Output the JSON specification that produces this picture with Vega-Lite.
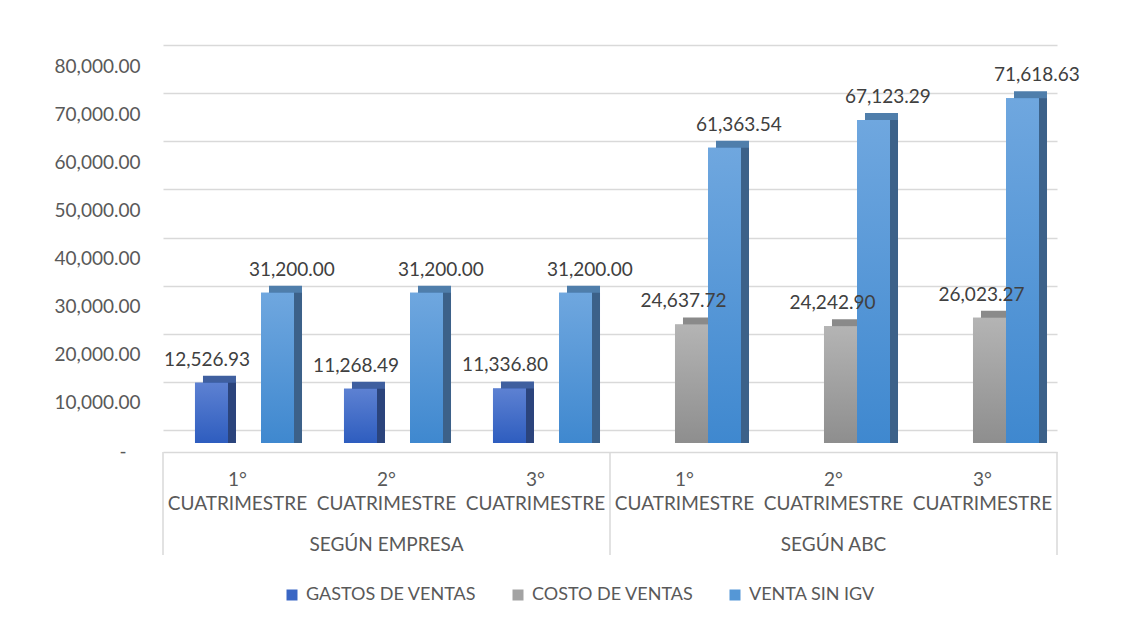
{
  "$schema": "https://vega.github.io/schema/vega-lite/v6.json",
  "width": 894,
  "height": 385,
  "autosize": {"type": "none"},
  "padding": {"left": 163, "top": 58, "right": 67, "bottom": 178},
  "background": "white",
  "config": {
    "font": "Lato",
    "view": {"stroke": null}
  },
  "datasets": {
    "ventas": [
      {"cat": "SEGÚN EMPRESA - 1° CUATRIMESTRE", "serie": "GASTOS DE VENTAS", "valor": 12526.93},
      {"cat": "SEGÚN EMPRESA - 1° CUATRIMESTRE", "serie": "VENTA SIN IGV", "valor": 31200.00},
      {"cat": "SEGÚN EMPRESA - 2° CUATRIMESTRE", "serie": "GASTOS DE VENTAS", "valor": 11268.49},
      {"cat": "SEGÚN EMPRESA - 2° CUATRIMESTRE", "serie": "VENTA SIN IGV", "valor": 31200.00},
      {"cat": "SEGÚN EMPRESA - 3° CUATRIMESTRE", "serie": "GASTOS DE VENTAS", "valor": 11336.80},
      {"cat": "SEGÚN EMPRESA - 3° CUATRIMESTRE", "serie": "VENTA SIN IGV", "valor": 31200.00},
      {"cat": "SEGÚN ABC - 1° CUATRIMESTRE", "serie": "COSTO DE VENTAS", "valor": 24637.72},
      {"cat": "SEGÚN ABC - 1° CUATRIMESTRE", "serie": "VENTA SIN IGV", "valor": 61363.54},
      {"cat": "SEGÚN ABC - 2° CUATRIMESTRE", "serie": "COSTO DE VENTAS", "valor": 24242.90},
      {"cat": "SEGÚN ABC - 2° CUATRIMESTRE", "serie": "VENTA SIN IGV", "valor": 67123.29},
      {"cat": "SEGÚN ABC - 3° CUATRIMESTRE", "serie": "COSTO DE VENTAS", "valor": 26023.27},
      {"cat": "SEGÚN ABC - 3° CUATRIMESTRE", "serie": "VENTA SIN IGV", "valor": 71618.63}
    ]
  },
  "layer": [
    {
      "data": {"name": "ventas"},
      "mark": {"type": "bar", "yOffset": -7, "y2Offset": -7},
      "encoding": {
        "x": {
          "field": "cat", "type": "nominal", "sort": null,
          "scale": {"domain": ["SEGÚN EMPRESA - 1° CUATRIMESTRE", "SEGÚN EMPRESA - 2° CUATRIMESTRE", "SEGÚN EMPRESA - 3° CUATRIMESTRE", "SEGÚN ABC - 1° CUATRIMESTRE", "SEGÚN ABC - 2° CUATRIMESTRE", "SEGÚN ABC - 3° CUATRIMESTRE"], "paddingInner": 0, "paddingOuter": 0},
          "axis": {
            "orient": "bottom", "offset": 9, "title": null,
            "domainColor": "#d9d9d9", "domainWidth": 1.5,
            "ticks": false, "labelAngle": 0, "labelFont": "Lato", "labelFontSize": 19,
            "labelColor": "#595959", "labelLineHeight": 24, "labelPadding": 18,
            "labelOverlap": false, "labelBound": false, "labelFlush": false, "labelAlign": "center", "labelBaseline": "top",
            "labelExpr": "[split(split(datum.value, ' - ')[1], ' ')[0], 'CUATRIMESTRE']"
          }
        },
        "xOffset": {
          "field": "serie", "type": "nominal",
          "scale": {"domain": ["GASTOS DE VENTAS", "COSTO DE VENTAS", "VENTA SIN IGV"], "paddingInner": 0, "paddingOuter": 0.757, "align": 0.8}
        },
        "y": {
          "field": "valor", "type": "quantitative",
          "scale": {"domain": [0, 80000], "nice": false, "zero": true},
          "axis": {
            "title": null, "domain": false, "ticks": false, "values": [0, 10000, 20000, 30000, 40000, 50000, 60000, 70000, 80000],
            "grid": true, "gridColor": "#d9d9d9", "gridWidth": 1.5,
            "tickOffset": -13, "labelOffset": 21, "labelOverlap": false,
            "labelPadding": {"condition": {"test": "datum.value == 0", "value": 37}, "value": 23},
            "labelFont": "Lato", "labelFontSize": 19, "labelColor": "#595959",
            "labelExpr": "datum.value == 0 ? '-' : format(datum.value, ',.2f')"
          }
        },
        "color": {
          "field": "serie", "type": "nominal", "legend": null,
          "scale": {"domain": ["GASTOS DE VENTAS", "COSTO DE VENTAS", "VENTA SIN IGV"], "range": ["#3f5f9f", "#8a8a8a", "#4f7eab"]}
        }
      }
    },
    {
      "data": {"name": "ventas"},
      "mark": {"type": "bar"},
      "encoding": {
        "x": {"field": "cat", "type": "nominal", "sort": null},
        "xOffset": {
          "field": "serie", "type": "nominal",
          "scale": {"domain": ["GASTOS DE VENTAS", "COSTO DE VENTAS", "VENTA SIN IGV"], "paddingInner": 0, "paddingOuter": 0.757, "align": 0.8}
        },
        "y": {"field": "valor", "type": "quantitative"},
        "color": {
          "field": "serie", "type": "nominal", "legend": null,
          "scale": {"domain": ["GASTOS DE VENTAS", "COSTO DE VENTAS", "VENTA SIN IGV"], "range": ["#2b447c", "#767676", "#3c6189"]}
        }
      }
    },
    {
      "data": {"name": "ventas"},
      "mark": {"type": "bar"},
      "encoding": {
        "x": {"field": "cat", "type": "nominal", "sort": null},
        "xOffset": {
          "field": "serie", "type": "nominal",
          "scale": {"domain": ["GASTOS DE VENTAS", "COSTO DE VENTAS", "VENTA SIN IGV"], "paddingInner": 0, "paddingOuter": 0.757, "align": 0.64}
        },
        "y": {"field": "valor", "type": "quantitative"},
        "color": {
          "field": "serie", "type": "nominal",
          "scale": {"domain": ["GASTOS DE VENTAS", "COSTO DE VENTAS", "VENTA SIN IGV"], "range": ["#3a66c4", "#a3a3a3", "#5597d6"]},
          "legend": {
            "title": null, "orient": "none", "direction": "horizontal",
            "legendX": 120, "legendY": 528,
            "symbolType": "square", "symbolSize": 121, "symbolStrokeWidth": 0,
            "labelFont": "Lato", "labelFontSize": 18, "labelColor": "#595959",
            "labelOffset": 5, "columnPadding": 32, "labelLimit": 300
          }
        }
      }
    },
    {
      "data": {"name": "ventas"},
      "mark": {"type": "bar"},
      "encoding": {
        "x": {"field": "cat", "type": "nominal", "sort": null},
        "xOffset": {
          "field": "serie", "type": "nominal",
          "scale": {"domain": ["GASTOS DE VENTAS", "COSTO DE VENTAS", "VENTA SIN IGV"], "paddingInner": 0, "paddingOuter": 0.757, "align": 0.64}
        },
        "y": {"field": "valor", "type": "quantitative"},
        "fill": {
          "condition": [
            {"test": "datum.serie == 'GASTOS DE VENTAS'", "value": {"gradient": "linear", "x1": 0, "y1": 0, "x2": 0, "y2": 1, "stops": [{"offset": 0, "color": "#5d81d2"}, {"offset": 1, "color": "#2e5dbf"}]}},
            {"test": "datum.serie == 'COSTO DE VENTAS'", "value": {"gradient": "linear", "x1": 0, "y1": 0, "x2": 0, "y2": 1, "stops": [{"offset": 0, "color": "#b4b4b4"}, {"offset": 1, "color": "#8e8e8e"}]}}
          ],
          "value": {"gradient": "linear", "x1": 0, "y1": 0, "x2": 0, "y2": 1, "stops": [{"offset": 0, "color": "#6fa7df"}, {"offset": 1, "color": "#3f88cf"}]}
        }
      }
    },
    {
      "data": {"name": "ventas"},
      "mark": {"type": "text", "baseline": "middle", "align": "center", "dy": -23, "dx": {"expr": "datum.serie == 'COSTO DE VENTAS' ? -10 : 3"}, "font": "Lato", "fontSize": 19, "color": "#404040"},
      "encoding": {
        "x": {"field": "cat", "type": "nominal", "sort": null},
        "xOffset": {
          "field": "serie", "type": "nominal",
          "scale": {"domain": ["GASTOS DE VENTAS", "COSTO DE VENTAS", "VENTA SIN IGV"], "paddingInner": 0, "paddingOuter": 0.757, "align": 0.64}
        },
        "y": {"field": "valor", "type": "quantitative"},
        "text": {"field": "valor", "type": "quantitative", "format": ",.2f"}
      }
    },
    {
      "data": {"values": [{"cat": "SEGÚN EMPRESA - 2° CUATRIMESTRE", "grupo": "SEGÚN EMPRESA"}, {"cat": "SEGÚN ABC - 2° CUATRIMESTRE", "grupo": "SEGÚN ABC"}]},
      "mark": {"type": "text", "baseline": "middle", "align": "center", "font": "Lato", "fontSize": 19, "color": "#595959"},
      "encoding": {
        "x": {"field": "cat", "type": "nominal", "sort": null},
        "y": {"datum": -21200},
        "text": {"field": "grupo"}
      }
    },
    {
      "data": {"values": [{"cat": "SEGÚN EMPRESA - 1° CUATRIMESTRE"}, {"cat": "SEGÚN ABC - 1° CUATRIMESTRE"}]},
      "mark": {"type": "rule", "color": "#d9d9d9", "strokeWidth": 1.5},
      "encoding": {
        "x": {"field": "cat", "type": "nominal", "sort": null, "bandPosition": 0},
        "y": {"datum": -1870},
        "y2": {"datum": -23270}
      }
    },
    {
      "data": {"values": [{"cat": "SEGÚN ABC - 3° CUATRIMESTRE"}]},
      "mark": {"type": "rule", "color": "#d9d9d9", "strokeWidth": 1.5},
      "encoding": {
        "x": {"field": "cat", "type": "nominal", "sort": null, "bandPosition": 1},
        "y": {"datum": -1870},
        "y2": {"datum": -23270}
      }
    }
  ],
  "resolve": {"scale": {"color": "independent", "xOffset": "independent"}}
}
